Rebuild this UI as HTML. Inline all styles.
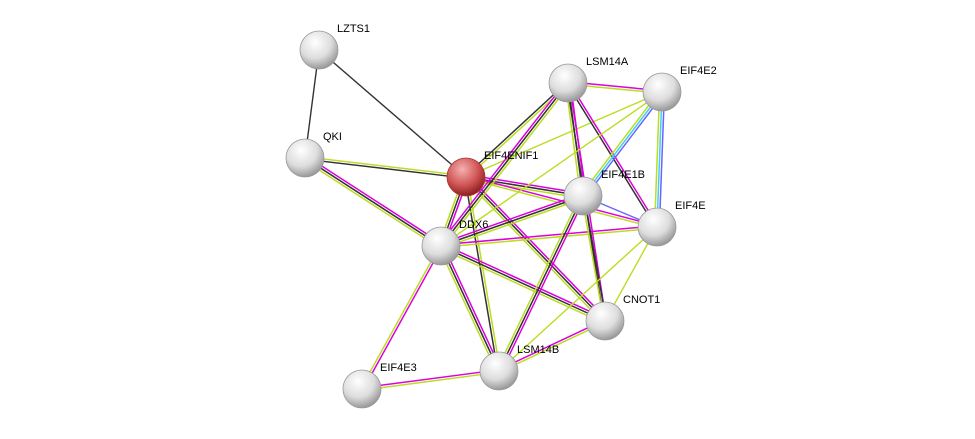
<!DOCTYPE html>
<html><head><meta charset="utf-8"><style>
body{margin:0;background:#fff;width:975px;height:434px;overflow:hidden}
svg text{font-family:"Liberation Sans",sans-serif;font-size:11px;fill:#000}
</style></head><body>
<svg id="s" width="975" height="434" xmlns="http://www.w3.org/2000/svg">
<defs>
<radialGradient id="g" cx="40%" cy="30%" r="70%"><stop offset="0" stop-color="#fff"/><stop offset="0.6" stop-color="#ddd"/><stop offset="1" stop-color="#999"/></radialGradient>
<radialGradient id="r" cx="40%" cy="30%" r="70%"><stop offset="0" stop-color="#f5b0b0"/><stop offset="0.6" stop-color="#d05555"/><stop offset="1" stop-color="#902020"/></radialGradient>
</defs>
<g id="e"></g><g id="n"></g>
</svg>
<script>
var N={LZTS1:[319,50],QKI:[305,158],EIF4ENIF1:[466,177],LSM14A:[568,83],EIF4E2:[662,92],EIF4E1B:[583,196],EIF4E:[657,227],DDX6:[441,246],CNOT1:[605,321],LSM14B:[499,371],EIF4E3:[362,389]};
var M="#d0d",K="#333",Y="#bd2",B="#66f",C="#4cf";
var E=[["LZTS1","QKI",[K]],["LZTS1","EIF4ENIF1",[K]],["QKI","EIF4ENIF1",[Y,K]],["QKI","DDX6",[M,K,Y]],
["EIF4ENIF1","LSM14A",[K,Y]],["EIF4ENIF1","EIF4E2",[Y]],["EIF4ENIF1","EIF4E1B",[M,K,Y]],["EIF4ENIF1","EIF4E",[M,Y]],
["EIF4ENIF1","DDX6",[M,K,Y]],["EIF4ENIF1","CNOT1",[M,K,Y]],["EIF4ENIF1","LSM14B",[Y,K]],["DDX6","LSM14A",[M,K,Y]],
["DDX6","EIF4E1B",[M,K,Y]],["DDX6","EIF4E",[M,Y]],["DDX6","CNOT1",[M,K,Y]],["DDX6","LSM14B",[M,K,Y]],["DDX6","EIF4E3",[M,Y]],
["LSM14A","EIF4E2",[M,Y]],["LSM14A","EIF4E1B",[M,K,Y]],["LSM14A","EIF4E",[M,K]],["LSM14A","CNOT1",[M,K]],
["EIF4E2","EIF4E1B",[B,C,Y]],["EIF4E2","EIF4E",[B,C,Y]],["EIF4E2","DDX6",[Y]],["EIF4E1B","EIF4E",[B]],
["EIF4E1B","LSM14B",[M,K,Y]],["EIF4E1B","CNOT1",[K,Y]],["EIF4E","CNOT1",[Y]],["EIF4E","LSM14B",[Y]],
["LSM14B","CNOT1",[M,Y]],["EIF4E3","LSM14B",[M,Y]]];
var ns="http://www.w3.org/2000/svg",ge=document.getElementById("e"),gn=document.getElementById("n");
E.forEach(function(d){var a=N[d[0]],b=N[d[1]],dx=b[0]-a[0],dy=b[1]-a[1],L=Math.hypot(dx,dy),px=-dy/L,py=dx/L,n=d[2].length;
d[2].forEach(function(c,i){var o=(i-(n-1)/2)*2.4;var l=document.createElementNS(ns,"line");
l.setAttribute("x1",a[0]+px*o);l.setAttribute("y1",a[1]+py*o);l.setAttribute("x2",b[0]+px*o);l.setAttribute("y2",b[1]+py*o);
l.setAttribute("stroke",c);l.setAttribute("stroke-width",n==1?1.4:1.5);ge.appendChild(l);});});
for(var k in N){var p=N[k],c=document.createElementNS(ns,"circle");c.setAttribute("cx",p[0]);c.setAttribute("cy",p[1]);c.setAttribute("r",19);
c.setAttribute("fill",k=="EIF4ENIF1"?"url(#r)":"url(#g)");c.setAttribute("stroke",k=="EIF4ENIF1"?"#a33":"#999");c.setAttribute("stroke-width",0.8);gn.appendChild(c);
var t=document.createElementNS(ns,"text");t.setAttribute("x",p[0]+18);t.setAttribute("y",p[1]-18);t.textContent=k;gn.appendChild(t);}
</script>
</body></html>
